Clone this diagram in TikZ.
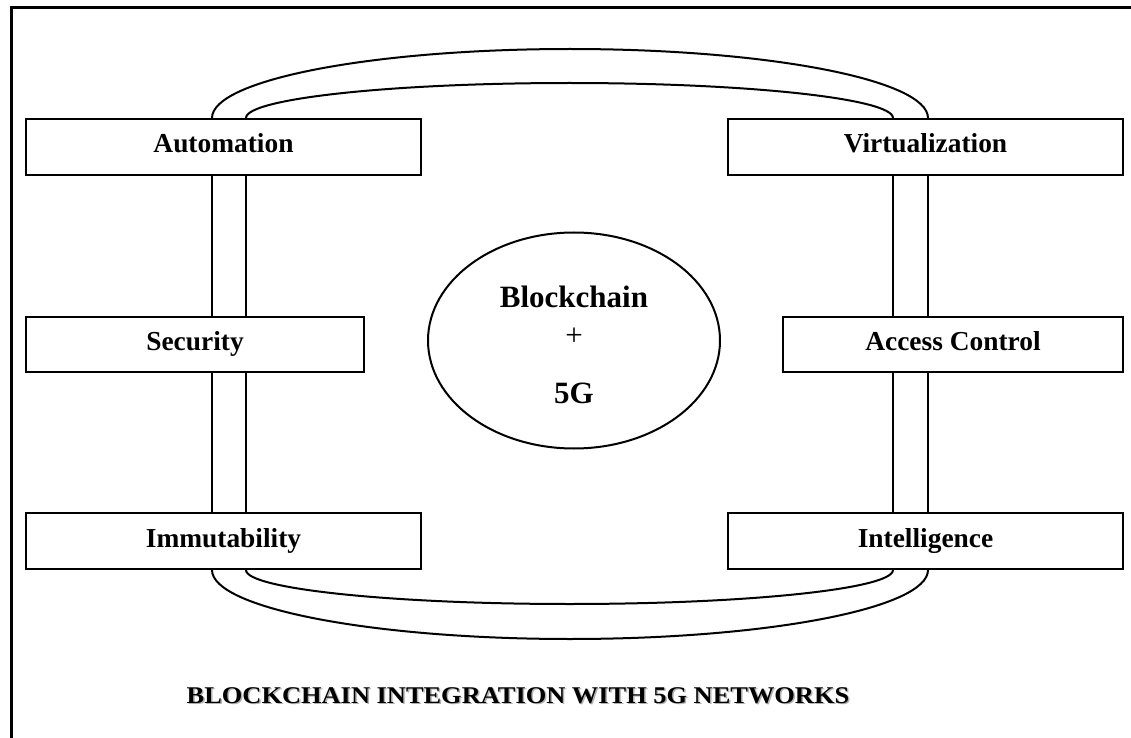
\documentclass[tikz,border=0pt]{standalone}
\usepackage{fontspec}
\setmainfont{Liberation Serif}
\usetikzlibrary{shapes.geometric}
\begin{document}
\begin{tikzpicture}[x=0.5pt,y=-0.5pt,
  box/.style={draw, line width=1pt, inner sep=0pt, font=\bfseries\fontsize{13.7}{16}\selectfont,
    text height=6pt, text depth=0pt},
  link/.style={line width=1pt},
  frameline/.style={line width=1.5pt},
  captext/.style={font=\bfseries\fontsize{12}{14}\selectfont, anchor=base, inner sep=0pt}]
\useasboundingbox (0,0) rectangle (1131,738);
% frame
\draw[frameline] (11,760) -- (11,8) -- (1150,8);
% boxes
\node[box, minimum width=197.5pt, minimum height=28pt] (auto) at (223.5,147) {Automation};
\node[box, minimum width=169pt, minimum height=27.5pt] (sec) at (195,344.5) {Security};
\node[box, minimum width=197.5pt, minimum height=28pt] (imm) at (223.5,541) {Immutability};
\node[box, minimum width=197.5pt, minimum height=28pt] (virt) at (925.5,147) {Virtualization};
\node[box, minimum width=170pt, minimum height=27.5pt] (acc) at (953,344.5) {Access Control};
\node[box, minimum width=197.5pt, minimum height=28pt] (intel) at (925.5,541) {Intelligence};
% centre ellipse
\node[draw, line width=1pt, ellipse, minimum width=146pt, minimum height=108pt, inner sep=0pt] (core) at (574,340.5) {};
\node[font=\bfseries\fontsize{15.5}{18}\selectfont, anchor=base, inner sep=0pt] (bc) at (574,307) {Blockchain};
\node[font=\fontsize{15.5}{18}\selectfont, inner sep=0pt] (plus) at (574,337) {+};
\node[font=\bfseries\fontsize{15.5}{18}\selectfont, anchor=base, inner sep=0pt] (fg) at (574,403) {5G};
% pillar coordinates
\coordinate (lo) at (212,0);
\coordinate (li) at (246,0);
\coordinate (ri) at (893,0);
\coordinate (ro) at (928,0);
% pillars
\draw[link] (lo |- auto.south) -- (lo |- sec.north);
\draw[link] (li |- auto.south) -- (li |- sec.north);
\draw[link] (lo |- sec.south) -- (lo |- imm.north);
\draw[link] (li |- sec.south) -- (li |- imm.north);
\draw[link] (ro |- virt.south) -- (ro |- acc.north);
\draw[link] (ri |- virt.south) -- (ri |- acc.north);
\draw[link] (ro |- acc.south) -- (ro |- intel.north);
\draw[link] (ri |- acc.south) -- (ri |- intel.north);
% top arcs
\draw[link] (lo |- auto.north) arc[start angle=180, end angle=360, x radius=358, y radius=69];
\draw[link] (li |- auto.north) arc[start angle=180, end angle=360, x radius=323.5, y radius=35];
% bottom arcs
\draw[link] (lo |- imm.south) arc[start angle=180, end angle=0, x radius=358, y radius=69];
\draw[link] (li |- imm.south) arc[start angle=180, end angle=0, x radius=323.5, y radius=34];
% caption
\node[captext, text=black!30] at (519.5,704.5) {\scalebox{1.1}[1]{BLOCKCHAIN INTEGRATION WITH 5G NETWORKS}};
\node[captext] (cap) at (518,703) {\scalebox{1.1}[1]{BLOCKCHAIN INTEGRATION WITH 5G NETWORKS}};
\end{tikzpicture}
\end{document}
